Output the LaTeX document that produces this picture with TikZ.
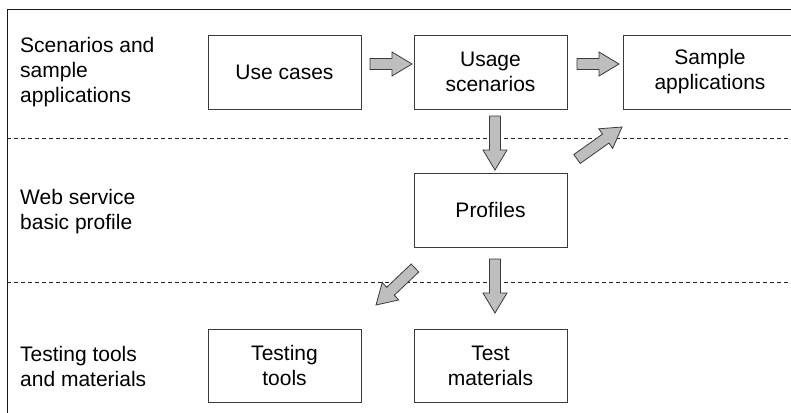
\documentclass[tikz,border=0pt]{standalone}
\usepackage{fontspec}
\setmainfont{Liberation Sans}
\usetikzlibrary{calc}
\definecolor{boxline}{HTML}{3A3A3A}
\definecolor{arrfill}{HTML}{BEBEBE}
\tikzset{
  box/.style={draw=boxline, line width=0.9pt, minimum width=153pt, minimum height=74pt,
    inner sep=0pt, align=center, font=\fontsize{21}{25}\selectfont},
  lbl/.style={anchor=west, inner sep=0pt, align=left, font=\fontsize{21}{25}\selectfont},
  sep/.style={draw=black!85, line width=0.8pt, dash pattern=on 4pt off 3pt},
  frame/.style={draw=black!90, line width=1pt},
  blockarrow/.style={draw=boxline, fill=arrfill, line width=0.8pt, line join=miter}
}
\newcommand\blockarr[2]{%
  \coordinate (#1-#2-h) at ($(#2)!20pt!(#1)$);
  \path[blockarrow] ($(#1)!5.5pt!90:(#2)$) -- ($(#1-#2-h)!5.5pt!90:(#2)$) -- ($(#1-#2-h)!12pt!90:(#2)$)
    -- (#2) -- ($(#1-#2-h)!12pt!-90:(#2)$) -- ($(#1-#2-h)!5.5pt!-90:(#2)$) -- ($(#1)!5.5pt!-90:(#2)$) -- cycle;
}
\begin{document}
\begin{tikzpicture}[x=1pt, y=1pt]
\useasboundingbox (0,0) rectangle (791,-412);
% frame
\coordinate (fbl) at (7,-415);
\coordinate (ftl) at (7,-10);
\coordinate (ftr) at (795,-10);
\path[frame] (fbl) -- (ftl) -- (ftr);
% separators
\coordinate (s1a) at (7,-138); \coordinate (s1b) at (795,-138);
\coordinate (s2a) at (7,-282); \coordinate (s2b) at (795,-282);
\path[sep] (s1a) -- (s1b);
\path[sep] (s2a) -- (s2b);
% labels
\node[lbl] (l1) at (20,-72.5) {Scenarios and\\sample\\applications};
\node[lbl] (l2) at (20,-212) {Web service\\basic profile};
\node[lbl] (l3) at (20,-366) {Testing tools\\and materials};
% boxes
\node[box] (uc) at (284.5,-72) {Use cases};
\node[box] (us) at (490.5,-72) {Usage\\scenarios};
\node[box, minimum width=174pt] (sa) at (710,-72) {Sample\\applications};
\node[box] (pr) at (490.5,-210) {Profiles};
\node[box, minimum height=73pt] (tt) at (284.5,-365.5) {Testing\\tools};
\node[box, minimum height=73pt] (tm) at (490.5,-366) {Test\\materials};
% arrow end points
\coordinate (a1t) at (370,-64);  \coordinate (a1h) at (412,-64);
\coordinate (a2t) at (577,-64);  \coordinate (a2h) at (619,-64);
\coordinate (a3t) at (495,-116); \coordinate (a3h) at (495,-170);
\coordinate (a4t) at (577,-159); \coordinate (a4h) at (622,-127);
\coordinate (a5t) at (495,-259); \coordinate (a5h) at (495,-313);
\coordinate (a6t) at (415,-268); \coordinate (a6h) at (376,-305);
\blockarr{a1t}{a1h}
\blockarr{a2t}{a2h}
\blockarr{a3t}{a3h}
\blockarr{a4t}{a4h}
\blockarr{a5t}{a5h}
\blockarr{a6t}{a6h}
\end{tikzpicture}
\end{document}
